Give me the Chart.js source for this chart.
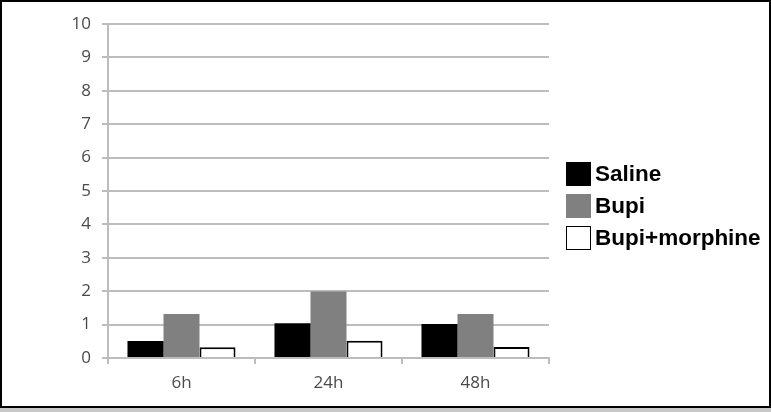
<!DOCTYPE html>
<html>
<head>
<meta charset="utf-8">
<script src="https://cdn.jsdelivr.net/npm/chart.js@4.4.1/dist/chart.umd.min.js"></script>
<style>
  html, body { margin: 0; padding: 0; background: #c8c8c8; }
  #wrap { position: relative; width: 771px; height: 412px; overflow: hidden; }
  #frame { position: absolute; left: 0; top: 0; width: 771px; height: 408px; box-sizing: border-box;
           border: 2px solid #000; background: #fff; }
  #c { position: absolute; left: 0; top: 0; }
  #legend { position: absolute; left: 566px; top: 162px; font-family: "Liberation Sans", Arial, sans-serif;
            font-weight: bold; font-size: 22.5px; color: #000; }
  .item { display: flex; align-items: center; height: 24px; margin-bottom: 8px; }
  .box { width: 25px; height: 24px; box-sizing: border-box; margin-right: 4px; }
  .txt { line-height: 24px; position: relative; top: 0px; }
</style>
</head>
<body>
<div id="wrap">
  <div id="frame"></div>
  <canvas id="c" width="771" height="412"></canvas>
  <div id="legend"></div>
</div>
<script>
const categories = ["6h", "24h", "48h"];
const salineValues = [0.51, 1.04, 1.02];
const bupiValues = [1.32, 1.99, 1.32];
const bupiMorphineValues = [0.32, 0.52, 0.33];
const seriesNames = ["Saline", "Bupi", "Bupi+morphine"];
const yTickMin = 0, yTickMax = 10, yTickStep = 1;

const tickFont = { family: "'Open Sans', 'Liberation Sans', sans-serif", size: 17 };
const gridColor = "#bdbdbd";

const chart = new Chart(document.getElementById("c"), {
  type: "bar",
  data: {
    labels: categories,
    datasets: [
      { label: seriesNames[0], data: salineValues, backgroundColor: "#000000", borderColor: "#000000", borderWidth: 0 },
      { label: seriesNames[1], data: bupiValues, backgroundColor: "#808080", borderColor: "#808080", borderWidth: 0 },
      { label: seriesNames[2], data: bupiMorphineValues, backgroundColor: "#ffffff", borderColor: "#000000", borderWidth: 2 }
    ]
  },
  options: {
    responsive: false,
    animation: false,
    devicePixelRatio: 1,
    layout: { padding: { left: 0, top: 24, right: 222, bottom: 0 } },
    datasets: { bar: { barPercentage: 1.0, categoryPercentage: 0.735 } },
    plugins: { legend: { display: false }, tooltip: { enabled: false } },
    scales: {
      x: {
        offset: true,
        grid: { offset: true, drawOnChartArea: false, drawTicks: true, tickLength: 6, color: gridColor, lineWidth: 2 },
        border: { color: gridColor, width: 2 },
        ticks: { font: tickFont, color: "#4a4a4a", padding: 9 },
        afterFit: s => { s.height = 54; }
      },
      y: {
        min: yTickMin, max: yTickMax,
        grid: { color: gridColor, lineWidth: 2, tickLength: 6 },
        border: { color: gridColor, width: 2 },
        ticks: { stepSize: yTickStep, font: tickFont, color: "#4a4a4a", padding: 11 },
        afterFit: s => { s.width = 108; }
      }
    }
  }
});

// Legend built from the chart's own legend items
const legendEl = document.getElementById("legend");
const items = Chart.defaults.plugins.legend.labels.generateLabels(chart);
items.forEach((it, i) => {
  const ds = chart.data.datasets[i];
  const row = document.createElement("div");
  row.className = "item";
  const box = document.createElement("div");
  box.className = "box";
  box.style.background = ds.backgroundColor;
  box.style.border = ds.borderWidth ? "1.5px solid " + ds.borderColor : "none";
  const t = document.createElement("span");
  t.className = "txt";
  t.textContent = it.text;
  row.appendChild(box); row.appendChild(t);
  legendEl.appendChild(row);
});
</script>
</body>
</html>
